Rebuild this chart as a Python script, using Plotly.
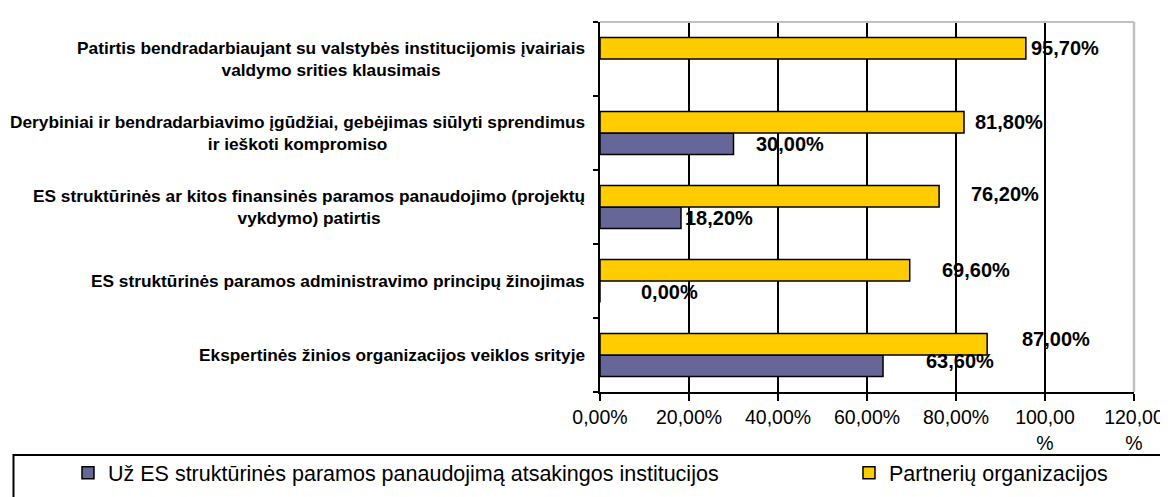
import plotly.graph_objects as go

# ---- data (top-to-bottom order as displayed) ----
categories = [
    "Patirtis bendradarbiaujant su valstybės institucijomis įvairiais<br>valdymo srities klausimais",
    "Derybiniai ir bendradarbiavimo įgūdžiai, gebėjimas siūlyti sprendimus<br>ir ieškoti kompromiso",
    "ES struktūrinės ar kitos finansinės paramos panaudojimo (projektų<br>vykdymo) patirtis",
    "ES struktūrinės paramos administravimo principų žinojimas",
    "Ekspertinės žinios organizacijos veiklos srityje",
]
institutions = [None, 30.0, 18.2, 0.0, 63.6]
partners = [95.7, 81.8, 76.2, 69.6, 87.0]

series_names = [
    "Už ES struktūrinės paramos panaudojimą atsakingos institucijos",
    "Partnerių organizacijos",
]
tick_values = [0, 20, 40, 60, 80, 100, 120]
tick_labels = ["0,00%", "20,00%", "40,00%", "60,00%", "80,00%", "100,00<br>%", "120,00<br>%"]

# ---- label placement offsets (pixels), kept separate from the data ----
partners_xshift = [3, 9, 30, 30, 33]
partners_yshift = [11, 11, 13, 11, 16]
institutions_xshift = [0, 20, 2, 39, 41]
institutions_yshift = [0, -11, -11, -11, -6]

PURPLE = "#666699"
YELLOW = "#FFCC00"
FONT = "Liberation Sans, Arial, sans-serif"

def fmt(v):
    return f"{v:.2f}".replace(".", ",") + "%"

fig = go.Figure()
fig.add_trace(go.Bar(
    y=categories, x=institutions, orientation="h", name=series_names[0],
    marker=dict(color=PURPLE, line=dict(color="black", width=1.5)),
    legendwidth=736,
))
fig.add_trace(go.Bar(
    y=categories, x=partners, orientation="h", name=series_names[1],
    marker=dict(color=YELLOW, line=dict(color="black", width=1.5)),
    legendwidth=240,
))

annotations = []
label_font = dict(family=FONT, size=20, color="black", weight="bold")
for c, v, xs, ys in zip(categories, partners, partners_xshift, partners_yshift):
    annotations.append(dict(x=v, y=c, xref="x", yref="y", text=fmt(v), showarrow=False,
                            xanchor="left", yanchor="middle", xshift=xs, yshift=ys,
                            font=label_font))
for c, v, xs, ys in zip(categories, institutions, institutions_xshift, institutions_yshift):
    if v is None:
        continue
    annotations.append(dict(x=v, y=c, xref="x", yref="y", text=fmt(v), showarrow=False,
                            xanchor="left", yanchor="middle", xshift=xs, yshift=ys,
                            font=label_font))
# category labels (centered multi-line, right aligned block)
for c in categories:
    annotations.append(dict(x=0, y=c, xref="paper", yref="y", text=c, showarrow=False,
                            xanchor="right", yanchor="middle", align="center", xshift=-13,
                            font=dict(family=FONT, size=17.3, color="black", weight="bold")))

L, R, T, B = 592, 37, 14, 102
W, H = 1168, 497
pw, ph = W - L - R, H - T - B

def px_x(p):
    return (p - L) / pw

def px_y(p):
    return (H - B - p) / ph

shapes = [
    dict(type="line", xref="paper", yref="paper", x0=0, x1=1, y0=1, y1=1,
         line=dict(color="#c0c0c0", width=2), layer="above"),
    dict(type="line", xref="paper", yref="paper", x0=1, x1=1, y0=0, y1=1,
         line=dict(color="#c0c0c0", width=2.5), layer="above"),
    dict(type="rect", xref="paper", yref="paper", x0=px_x(0), x1=px_x(1175),
         y0=px_y(505), y1=px_y(460), line=dict(color="black", width=2),
         fillcolor="rgba(0,0,0,0)"),
]

fig.update_layout(
    width=W, height=H,
    margin=dict(l=L, r=R, t=T, b=B),
    paper_bgcolor="white", plot_bgcolor="white",
    barmode="group", bargap=0.42, bargroupgap=0,
    font=dict(family=FONT, color="black"),
    showlegend=True,
    legend=dict(orientation="h", x=px_x(55), xanchor="left", y=px_y(457), yanchor="top",
                font=dict(family=FONT, size=21.5, color="black"),
                traceorder="normal", bgcolor="rgba(0,0,0,0)", itemclick=False),
    annotations=annotations,
    shapes=shapes,
)
fig.update_xaxes(
    range=[0, 120], tickvals=tick_values, ticktext=tick_labels,
    showgrid=True, gridcolor="black", gridwidth=1.5,
    showline=True, linecolor="black", linewidth=2,
    ticks="outside", ticklen=7, tickwidth=2, tickcolor="black",
    tickfont=dict(family=FONT, size=19.5, color="black"),
    zeroline=False, fixedrange=True,
)
fig.update_yaxes(
    categoryorder="array", categoryarray=list(reversed(categories)),
    showticklabels=False, showgrid=False,
    showline=True, linecolor="black", linewidth=2,
    ticks="outside", ticklen=5, tickwidth=2, tickcolor="black",
    tickson="boundaries", zeroline=False, fixedrange=True,
)

fig.write_html("out.html")
